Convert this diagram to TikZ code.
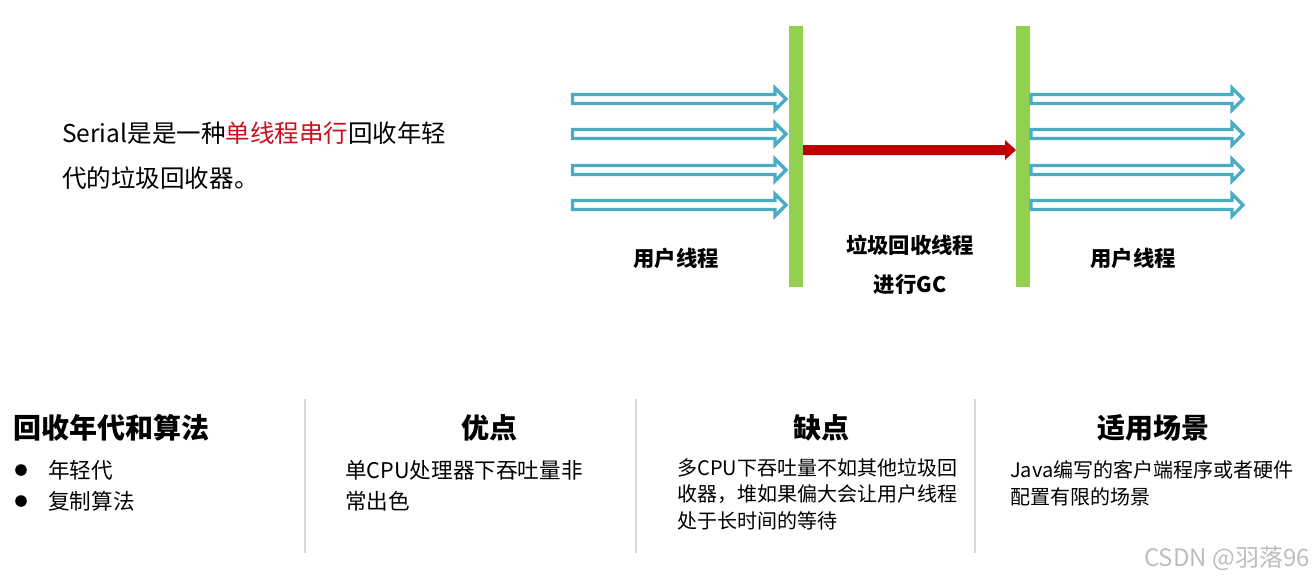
\documentclass[tikz,border=0pt]{standalone}
\usepackage{fontspec}
\setmainfont{Noto Sans CJK SC}
\definecolor{arrowblue}{HTML}{4BACC6}
\definecolor{barg}{HTML}{92D050}
\definecolor{darkred}{HTML}{C00000}
\definecolor{txtred}{HTML}{C8101E}
\definecolor{divgrey}{HTML}{D9D9D9}
\definecolor{wmgrey}{HTML}{BDBDBD}
\begin{document}
\begin{tikzpicture}[x=0.75pt,y=-0.75pt,
  hollow/.style={draw=arrowblue,line width=2.4pt,fill=white,line join=miter},
  bar/.style={fill=barg,draw=none},
  lbl/.style={font=\fontsize{16}{19}\selectfont\bfseries,inner sep=0pt},
  body/.style={font=\fontsize{15}{18}\selectfont,inner sep=0pt,anchor=west},
  bodyl/.style={font=\fontsize{16.2}{19}\selectfont,inner sep=0pt,anchor=west},
  head/.style={font=\fontsize{21}{25}\selectfont\bfseries,inner sep=0pt},
  intro/.style={font=\fontsize{18.4}{22}\selectfont,inner sep=0pt,anchor=west},
  divider/.style={draw=divgrey,line width=0.8pt}]
\useasboundingbox (0,0) rectangle (1314,582);
% green bars
\fill[bar] (789,26) rectangle (803,287);
\fill[bar] (1016,26) rectangle (1030,287);
% hollow arrows
\foreach \yy in {99,134,170,205}{
  \draw[hollow] (572.5,\yy-4.5) -- (775,\yy-4.5) -- (775,\yy-11) -- (786,\yy) -- (775,\yy+11) -- (775,\yy+4.5) -- (572.5,\yy+4.5) -- cycle;
  \draw[hollow] (1031,\yy-4.5) -- (1232,\yy-4.5) -- (1232,\yy-11) -- (1243,\yy) -- (1232,\yy+11) -- (1232,\yy+4.5) -- (1031,\yy+4.5) -- cycle;
}
% red arrow
\fill[darkred] (803,145) -- (1005,145) -- (1005,140) -- (1016,150) -- (1005,160) -- (1005,155) -- (803,155) -- cycle;
% labels
\node[lbl] (u1) at (676,258) {用户线程};
\node[lbl] (gc1) at (910,245) {垃圾回收线程};
\node[lbl] (gc2) at (910,284) {进行GC};
\node[lbl] (u2) at (1133,258) {用户线程};
% intro text
\node[intro] (i1) at (62,133) {Serial是是一种\textcolor{txtred}{单线程串行}回收年轻};
\node[intro] (i2) at (62,178) {代的垃圾回收器。};
% dividers
\draw[divider] (305,399) -- (305,553);
\draw[divider] (636,399) -- (636,553);
\draw[divider] (975,399) -- (975,553);
% headings
\node[head,anchor=west] (h1) at (13,428) {回收年代和算法};
\node[head] (h2) at (489,428) {优点};
\node[head] (h3) at (821,428) {缺点};
\node[head] (h4) at (1153,428) {适用场景};
% column 1
\fill (21,470) circle (5.8);
\fill (21,501) circle (5.8);
\node[bodyl] (c1a) at (48,470) {年轻代};
\node[bodyl] (c1b) at (48,501) {复制算法};
% column 2
\node[bodyl] (c2a) at (345,470) {单CPU处理器下吞吐量非};
\node[bodyl] (c2b) at (345,501) {常出色};
% column 3
\node[body] (c3a) at (677,468) {多CPU下吞吐量不如其他垃圾回};
\node[body] (c3b) at (677,494) {收器，堆如果偏大会让用户线程};
\node[body] (c3c) at (677,521) {处于长时间的等待};
% column 4
\node[body] (c4a) at (1010,470) {Java编写的客户端程序或者硬件};
\node[body] (c4b) at (1010,497) {配置有限的场景};
% watermark
\node[font=\fontsize{18}{21}\selectfont,text=wmgrey,inner sep=0pt,anchor=east] (wm) at (1310,558) {CSDN @羽落96};
\end{tikzpicture}
\end{document}
